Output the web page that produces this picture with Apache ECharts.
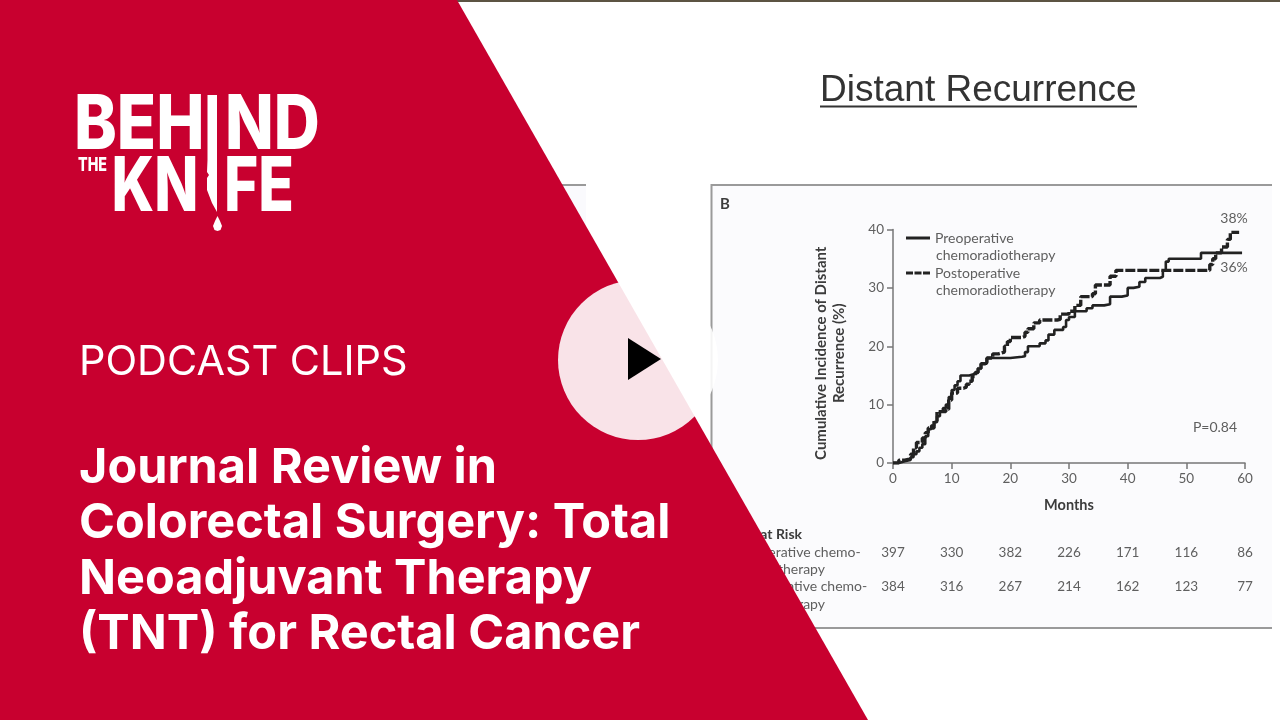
<!DOCTYPE html>
<html><head><meta charset="utf-8">
<style>html,body{margin:0;padding:0;background:#fff}#c{width:1280px;height:720px}</style>
<script src="https://cdn.jsdelivr.net/npm/echarts@6/dist/echarts.min.js"></script>
</head><body><div id="c"></div>
<script>
const preop = [[0,0],[1,0.3],[2,0.5],[3,1],[3.5,1.5],[4,2],[4.5,2.6],[5,3.2],[5.5,4.6],[6,5.8],[6.5,6.4],[7,7],[7.5,8],[8,8.8],[8.5,9.4],[9,10],[9.5,11.3],[10,12.5],[10.5,13.3],[11,14],[11.5,15],[13,15.3],[14,15.5],[14.5,16.2],[15,17],[16,18],[19,18],[20,18.2],[22,18.3],[22.5,19],[23,20],[25,20.5],[26,21],[26.5,22],[27.5,22.8],[29,23.3],[29.5,24.5],[30,25],[31,26],[33,26.5],[34,27],[36,27.2],[37,28.5],[39,28.7],[40,30],[41,30.2],[42,31],[43,31.7],[45.5,31.9],[46,33],[46.5,34.5],[47,35],[52,35],[52.5,36],[59.5,36]];
const postop = [[0,0],[1,0.5],[2,0.7],[3,1.5],[3.5,2.6],[4,3.5],[5,4.3],[5.5,5.2],[6,6],[7,7.2],[7.5,8.8],[9,9.2],[9.5,10.8],[10,12],[11,12.8],[12,13],[12.5,13.5],[13,14],[13.5,14.8],[14,15.5],[14.5,16.2],[15,17],[16,18],[17,18.7],[18,19],[19,20],[19.5,20.8],[20,21.5],[22,21.7],[22.5,22.4],[23,23],[24,24],[25,24.5],[28,24.6],[28.5,25.5],[30,26],[31,27],[32,28.5],[34,29],[34.5,30.5],[36,30.5],[37,32],[38,33],[53.5,33],[54,34],[54.5,35],[55,36],[56,37],[57,38.3],[57.5,39.5],[59,39.5]];
const riskPre = [397,330,382,226,171,116,86];
const riskPost = [384,316,267,214,162,123,77];
const headline = ['Journal Review in','Colorectal Surgery: Total','Neoadjuvant Therapy','(TNT) for Rectal Cancer'];
const headlineY = [466,521,577,632];
const riskLabels = [['No. at Risk',534,true,735],['Preoperative chemo-',552,false,732],['radiotherapy',569,false,747],['Postoperative chemo-',586,false,732],['radiotherapy',604,false,747]];

const INK='#222', GREY='#5f5f5f', FONT='Lato', HEAD='Inter';
const txt=(x,y,text,o={})=>({type:'text',x,y,z:o.z??1,scaleX:o.sx??1,style:{text,fill:o.fill??GREY,font:`${o.w??'normal'} ${o.s??14}px "${o.f??FONT}"`,textAlign:o.a??'left',textVerticalAlign:'middle'}});
const rect=(x,y,w,h,fill,z)=>({type:'rect',z,shape:{x,y,width:w,height:h},style:{fill}});
const riskAxis=(arr,offset)=>({type:'value',min:0,max:60,interval:10,position:'bottom',offset,axisLine:{show:false},axisTick:{show:false},splitLine:{show:false},
  axisLabel:{color:GREY,fontFamily:FONT,fontSize:13.5,formatter:v=>String(arr[v/10])}});

const chart=echarts.init(document.getElementById('c'));
chart.setOption({
  animation:false,backgroundColor:'#fff',
  grid:{left:893,top:229.5,width:352,height:233.5},
  xAxis:[
    {type:'value',min:0,max:60,interval:10,axisLine:{lineStyle:{color:'#777',width:1.5}},axisTick:{length:6,lineStyle:{color:'#777',width:1.5}},splitLine:{show:false},
     axisLabel:{color:GREY,fontFamily:FONT,fontSize:13.5,margin:9},name:'Months',nameLocation:'middle',nameGap:35,nameTextStyle:{color:'#3c3c3c',fontFamily:FONT,fontSize:14.5,fontWeight:'bold'}},
    riskAxis(riskPre,75),riskAxis(riskPost,109)
  ],
  yAxis:{type:'value',min:0,max:40,interval:10,axisLine:{show:true,lineStyle:{color:'#777',width:1.5}},axisTick:{show:true,length:6,lineStyle:{color:'#777',width:1.5}},splitLine:{show:false},
     axisLabel:{color:GREY,fontFamily:FONT,fontSize:13.5,margin:9},
     name:'Cumulative Incidence of Distant\nRecurrence (%)',nameLocation:'middle',nameGap:45,nameRotate:90,nameTextStyle:{color:'#3c3c3c',fontFamily:FONT,fontSize:15,fontWeight:'bold',lineHeight:18,padding:[0,14,0,0]}},
  legend:{orient:'vertical',left:906,top:231,padding:0,itemWidth:24,itemHeight:14,itemGap:21,selectedMode:false,
    data:[{name:'Preoperative chemoradiotherapy',icon:'path://M0,5.5H24V8.5H0Z'},{name:'Postoperative chemoradiotherapy',icon:'path://M0,5.5H7V8.5H0ZM8.5,5.5H15.5V8.5H8.5ZM17,5.5H24V8.5H17Z'}],
    formatter:n=>n.split(' ')[0],textStyle:{color:GREY,fontFamily:FONT,fontSize:14}, itemStyle:{color:INK}},
  series:[
    {name:'Preoperative chemoradiotherapy',type:'line',xAxisIndex:0,step:'end',data:preop,showSymbol:false,z:3,lineStyle:{color:INK,width:2.6},itemStyle:{color:INK}},
    {name:'Postoperative chemoradiotherapy',type:'line',xAxisIndex:0,step:'end',data:postop,showSymbol:false,z:4,lineStyle:{color:INK,width:3.4,type:[10,2]},itemStyle:{color:INK}}
  ],
  graphic:{elements:[
    rect(0,0,1280,2,'#5c5443',-1),
    rect(500,186,86,120,'#fafafd',-1),rect(500,184,86,2,'#9a9a9a',-1),
    rect(712,185,560,443,'#fbfbfd',-1),rect(711,184,561,2,'#9a9a9a',-1),rect(710.5,184,2,444,'#9a9a9a',-1),rect(711,627,561,2,'#9a9a9a',-1),
    txt(820,90.5,'Distant Recurrence',{f:'Liberation Sans',s:37,fill:'#333'}),
    rect(820,105.5,317,2,'#333',1),
    txt(720,204,'B',{s:15,w:'bold',fill:'#3c3c3c'}),
    txt(936,255,'chemoradiotherapy'),txt(936,290,'chemoradiotherapy'),
    txt(1234,218,'38%',{a:'center'}),txt(1234,267,'36%',{a:'center'}),txt(1215,427,'P=0.84',{a:'center'}),
    ...riskLabels.map(r=>txt(r[3],r[1],r[0],{w:r[2]?'bold':'normal',fill:r[2]?'#3c3c3c':GREY,s:14})),
    {type:'polygon',z:50,shape:{points:[[0,0],[457,0],[868,720],[0,720]]},style:{fill:'#c8002f'}},
    {type:'circle',z:51,shape:{cx:638,cy:360,r:80},style:{fill:'rgba(255,255,255,0.89)'}},
    {type:'polygon',z:52,shape:{points:[[628,338],[661,359],[628,380]]},style:{fill:'#000'}},
    // logo
    txt(74,126.5,'BEH',{z:53,f:HEAD,w:800,s:75,fill:'#fff',sx:0.86}),
    txt(225,126.5,'ND',{z:53,f:HEAD,w:800,s:75,fill:'#fff',sx:0.85}),
    txt(111.5,188.5,'KN',{z:53,f:HEAD,w:800,s:75,fill:'#fff',sx:0.77}),
    txt(224,188.5,'FE',{z:53,f:HEAD,w:800,s:75,fill:'#fff',sx:0.78}),
    txt(78,165,'THE',{z:53,f:HEAD,w:800,s:19,fill:'#fff',sx:0.75}),
    {type:'polygon',z:53,shape:{points:[[207.5,95],[217,95],[217,212],[212,203],[207,190],[207,178],[209,175],[207,172],[207.5,160]]},style:{fill:'#fff'}},
    {type:'polygon',z:53,shape:{points:[[217.5,216],[220,221],[222,226],[220.5,230],[217.5,231],[214.5,230],[213,226],[215,221]]},style:{fill:'#fff'}},
    txt(79,363,'PODCAST CLIPS',{z:53,f:HEAD,w:400,s:41.4,fill:'#fff'}),
    ...headline.map((t,i)=>txt(79,headlineY[i]+2,t,{z:53,f:HEAD,w:700,s:48.6,fill:'#fff'}))
  ]}
});
</script></body></html>
